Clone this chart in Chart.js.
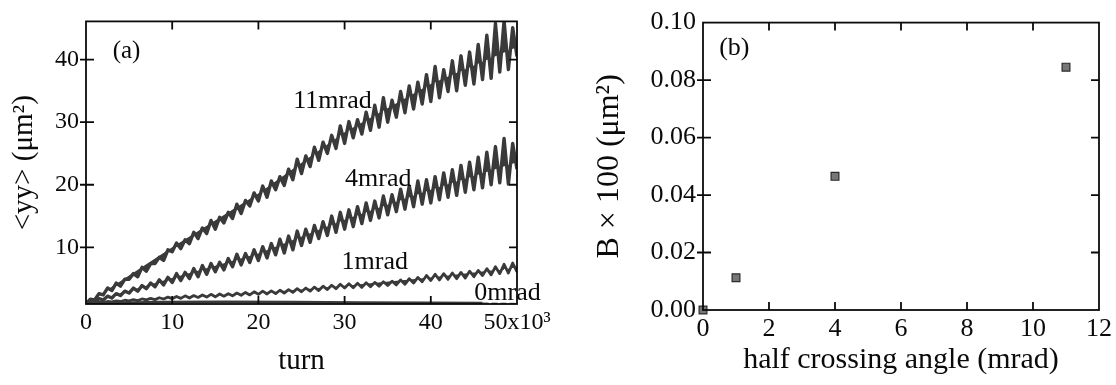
<!DOCTYPE html>
<html>
<head>
<meta charset="utf-8">
<script src="https://cdn.jsdelivr.net/npm/chart.js@4.4.0/dist/chart.umd.min.js"></script>
<style>
  html, body { margin: 0; padding: 0; background: #fff; }
  #wrap { position: relative; width: 1116px; height: 385px; }
  .box { position: absolute; top: 0; width: 558px; height: 385px; }
</style>
</head>
<body>
<div id="wrap">
  <div class="box" style="left:0"><canvas id="chartA"></canvas></div>
  <div class="box" style="left:558px"><canvas id="chartB"></canvas></div>
</div>
<script>
// panel (a): <yy> vs turn (x10^3)
const turns = [
  0, 0.5, 1, 1.5, 2, 2.5, 3, 3.5, 4, 4.5,
  5, 5.5, 6, 6.5, 7, 7.5, 8, 8.5, 9, 9.5,
  10, 10.5, 11, 11.5, 12, 12.5, 13, 13.5, 14, 14.5,
  15, 15.5, 16, 16.5, 17, 17.5, 18, 18.5, 19, 19.5,
  20, 20.5, 21, 21.5, 22, 22.5, 23, 23.5, 24, 24.5,
  25, 25.5, 26, 26.5, 27, 27.5, 28, 28.5, 29, 29.5,
  30, 30.5, 31, 31.5, 32, 32.5, 33, 33.5, 34, 34.5,
  35, 35.5, 36, 36.5, 37, 37.5, 38, 38.5, 39, 39.5,
  40, 40.5, 41, 41.5, 42, 42.5, 43, 43.5, 44, 44.5,
  45, 45.5, 46, 46.5, 47, 47.5, 48, 48.5, 49, 49.5,
  50
];
const yy11 = [
  1.0, 1.7, 1.6, 2.6, 2.4, 3.5, 3.1, 4.3, 3.8, 4.9,
  4.9, 5.8, 5.3, 6.8, 6.2, 7.4, 7.4, 8.4, 7.9, 9.6,
  9.3, 10.7, 9.8, 11.2, 10.6, 12.4, 11.4, 13.1, 12.2, 14.3,
  12.9, 14.8, 13.9, 15.6, 14.6, 16.9, 15.4, 17.5, 16.6, 18.7,
  17.4, 19.8, 18.0, 20.6, 19.2, 21.3, 19.9, 22.5, 20.8, 24.1,
  21.8, 24.6, 22.9, 26.0, 23.9, 26.8, 25.0, 27.9, 25.8, 29.4,
  26.6, 30.1, 27.5, 30.4, 28.1, 31.6, 28.7, 32.7, 29.2, 33.9,
  30.0, 33.5, 30.8, 34.9, 31.5, 35.8, 32.1, 36.4, 32.9, 37.6,
  33.3, 38.9, 33.9, 38.4, 34.9, 39.8, 35.0, 40.6, 35.9, 41.2,
  36.1, 42.4, 36.8, 43.9, 37.0, 45.8, 38.0, 46.2, 38.4, 45.1,
  40.5
];
const yy4 = [
  1.0, 1.4, 1.2, 1.8, 1.6, 2.2, 1.9, 2.6, 2.3, 3.0,
  2.7, 3.5, 3.0, 3.9, 3.4, 4.3, 3.7, 4.8, 4.0, 5.2,
  4.4, 5.8, 4.7, 6.0, 5.0, 6.6, 5.3, 7.1, 5.7, 7.4,
  6.1, 7.6, 6.4, 8.2, 6.9, 8.9, 7.2, 9.0, 7.6, 9.6,
  7.9, 10.1, 8.3, 10.6, 8.8, 11.3, 9.1, 11.8, 9.6, 12.6,
  10.3, 12.9, 10.8, 13.5, 11.4, 14.1, 11.9, 15.0, 12.4, 15.6,
  12.9, 16.0, 13.3, 16.5, 13.8, 17.1, 14.3, 17.4, 14.7, 18.2,
  15.2, 18.4, 15.7, 19.3, 16.1, 19.8, 16.5, 20.6, 16.9, 20.8,
  17.1, 21.3, 17.6, 21.9, 18.0, 22.4, 18.3, 23.1, 18.8, 23.6,
  19.2, 24.4, 19.5, 25.2, 20.0, 26.1, 20.3, 27.4, 20.1, 26.6,
  22.5
];
const yy1 = [
  1.0, 1.15, 1.1, 1.25, 1.2, 1.35, 1.3, 1.45, 1.35, 1.55,
  1.45, 1.65, 1.5, 1.75, 1.6, 1.85, 1.65, 1.95, 1.75, 2.05,
  1.8, 2.15, 1.85, 2.25, 1.9, 2.3, 2.0, 2.4, 2.05, 2.5,
  2.1, 2.55, 2.2, 2.6, 2.25, 2.7, 2.35, 2.8, 2.4, 2.9,
  2.5, 3.0, 2.55, 3.05, 2.6, 3.15, 2.7, 3.25, 2.8, 3.4,
  2.9, 3.5, 3.0, 3.65, 3.1, 3.8, 3.25, 3.95, 3.4, 4.1,
  3.5, 4.2, 3.55, 4.25, 3.6, 4.35, 3.7, 4.4, 3.8, 4.5,
  3.9, 4.6, 4.0, 4.8, 4.1, 5.0, 4.3, 5.2, 4.5, 5.5,
  4.7, 5.7, 4.8, 5.8, 4.9, 5.9, 5.0, 6.0, 5.1, 6.2,
  5.3, 6.3, 5.5, 6.6, 5.6, 6.9, 5.8, 7.3, 5.9, 7.5,
  6.1
];
const zeroTurns = [0, 8, 16, 24, 32, 40, 46];
const yy0 = [1.0, 1.25, 1.3, 1.25, 1.2, 1.15, 1.1];
const tailTurns = [46, 50];
const yy0tail = [1.1, 1.05];

// centre lines of the noisy bands (used to fill the band body)
const trendTurns = [0, 10, 20, 30, 40, 50];
const mid11 = [1.0, 10.0, 18.6, 28.4, 36.1, 42.0];
const mid4 = [1.0, 5.1, 9.0, 14.4, 19.2, 23.6];
const mid1 = [1.0, 2.0, 2.7, 3.85, 5.2, 6.8];

const turnTicks = [0, 10, 20, 30, 40, 50];
const turnTickLabels = ["0", "10", "20", "30", "40", "50x10\u00B3"];
const yyTicks = [10, 20, 30, 40];

// panel (b): B x 100 vs half crossing angle
const angles = [0, 1, 4, 11];
const bValues = [0.0, 0.0112, 0.0465, 0.0845];
const angleTicks = [0, 2, 4, 6, 8, 10, 12];
const bTicks = [0, 0.02, 0.04, 0.06, 0.08, 0.10];

const SERIF = "'Liberation Serif', 'Times New Roman', serif";
const INK = "#0a0a0a";
const TRACE = "#3a3a3a";

const pts = (xs, ys) => xs.map((x, i) => ({ x: x, y: ys[i] }));

// frame + inward ticks (left ticks cross the axis)
const frameTicks = {
  id: "frameTicks",
  afterDatasetsDraw(chart) {
    const { ctx, chartArea: a, scales } = chart;
    const x = scales.x, y = scales.y;
    ctx.save();
    ctx.strokeStyle = INK;
    ctx.lineWidth = 1.8;
    ctx.strokeRect(a.left, a.top, a.right - a.left, a.bottom - a.top);
    ctx.beginPath();
    x.ticks.forEach(t => {
      const px = x.getPixelForValue(t.value);
      if (px <= a.left + 1 || px >= a.right - 1) return;
      ctx.moveTo(px, a.bottom); ctx.lineTo(px, a.bottom - 8);
      ctx.moveTo(px, a.top); ctx.lineTo(px, a.top + 8);
    });
    y.ticks.forEach(t => {
      const py = y.getPixelForValue(t.value);
      if (py <= a.top + 1 || py >= a.bottom - 1) return;
      ctx.moveTo(a.left - 6, py); ctx.lineTo(a.left + 8, py);
      ctx.moveTo(a.right, py); ctx.lineTo(a.right - 8, py);
    });
    ctx.stroke();
    ctx.restore();
  }
};

// text notes placed in data units
const notes = {
  id: "notes",
  afterDraw(chart, args, opts) {
    const { ctx, scales } = chart;
    ctx.save();
    ctx.fillStyle = INK;
    ctx.textAlign = "center";
    ctx.textBaseline = "middle";
    (opts.items || []).forEach(n => {
      ctx.font = n.size + "px " + SERIF;
      ctx.fillText(n.text, scales.x.getPixelForValue(n.x), scales.y.getPixelForValue(n.y));
    });
    ctx.restore();
  }
};

function setTicks(values) {
  return scale => { scale.ticks = values.map(v => ({ value: v })); };
}

function traceSet(xs, ys, width, fillTo, dash) {
  return {
    data: pts(xs, ys),
    borderColor: TRACE,
    backgroundColor: TRACE,
    borderWidth: width,
    borderDash: dash || [],
    borderJoinStyle: "round",
    fill: fillTo === undefined ? false : fillTo,
    pointRadius: 0,
    tension: 0,
    clip: 0
  };
}

function midSet(ys) {
  return {
    data: pts(trendTurns, ys),
    borderWidth: 0,
    borderColor: "rgba(0,0,0,0)",
    pointRadius: 0,
    fill: false,
    tension: 0
  };
}

Chart.defaults.font.family = SERIF;
Chart.defaults.color = INK;

new Chart(document.getElementById("chartA"), {
  type: "line",
  data: {
    datasets: [
      traceSet(turns, yy11, 3.4, 5),
      traceSet(turns, yy4, 3.4, 6),
      traceSet(turns, yy1, 2.8, 7),
      traceSet(zeroTurns, yy0, 2.6),
      traceSet(tailTurns, yy0tail, 1, undefined, [6, 3]),
      midSet(mid11),
      midSet(mid4),
      midSet(mid1)
    ]
  },
  options: {
    responsive: true,
    maintainAspectRatio: false,
    animation: false,
    devicePixelRatio: 1,
    layout: { padding: { top: 15, right: 41, left: 0, bottom: 0 } },
    plugins: {
      legend: { display: false },
      tooltip: { enabled: false },
      notes: {
        items: [
          { text: "(a)", x: 4.7, y: 41.3, size: 25 },
          { text: "11mrad", x: 28.6, y: 33.3, size: 26 },
          { text: "4mrad", x: 33.9, y: 20.9, size: 26 },
          { text: "1mrad", x: 33.5, y: 7.6, size: 26 },
          { text: "0mrad", x: 48.9, y: 2.65, size: 26 }
        ]
      }
    },
    scales: {
      x: {
        type: "linear",
        min: 0,
        max: 50,
        afterBuildTicks: setTicks(turnTicks),
        afterFit: s => { s.height = 81; },
        grid: { display: false, drawTicks: false },
        border: { display: false },
        ticks: {
          padding: 4,
          maxRotation: 0,
          autoSkip: false,
          font: { size: 24 },
          callback: v => turnTickLabels[turnTicks.indexOf(v)]
        },
        title: { display: true, text: "turn", font: { size: 29 }, padding: 6 }
      },
      y: {
        min: 0.95,
        max: 46.1,
        afterBuildTicks: setTicks(yyTicks),
        afterFit: s => { s.width = 86; },
        grid: { display: false, drawTicks: false },
        border: { display: false },
        ticks: { padding: 7, font: { size: 24 } },
        title: { display: true, text: "<yy> (\u03BCm\u00B2)", font: { size: 29 }, padding: 7 }
      }
    }
  },
  plugins: [frameTicks, notes]
});

new Chart(document.getElementById("chartB"), {
  type: "scatter",
  data: {
    datasets: [{
      data: pts(angles, bValues),
      pointStyle: "rect",
      pointRadius: 5.5,
      backgroundColor: "#777",
      borderColor: "#2a2a2a",
      borderWidth: 1.2,
      clip: false
    }]
  },
  options: {
    responsive: true,
    maintainAspectRatio: false,
    animation: false,
    devicePixelRatio: 1,
    layout: { padding: { top: 21, right: 17, left: 0, bottom: 0 } },
    plugins: {
      legend: { display: false },
      tooltip: { enabled: false },
      notes: { items: [{ text: "(b)", x: 0.95, y: 0.091, size: 26 }] }
    },
    scales: {
      x: {
        type: "linear",
        min: 0,
        max: 12,
        afterBuildTicks: setTicks(angleTicks),
        afterFit: s => { s.height = 75; },
        grid: { display: false, drawTicks: false },
        border: { display: false },
        ticks: { padding: 4, maxRotation: 0, autoSkip: false, font: { size: 26 } },
        title: { display: true, text: "half crossing angle (mrad)", font: { size: 30 }, padding: 7 }
      },
      y: {
        min: 0,
        max: 0.1,
        afterBuildTicks: setTicks(bTicks),
        afterFit: s => { s.width = 145; },
        grid: { display: false, drawTicks: false },
        border: { display: false },
        ticks: { padding: 7, font: { size: 26 }, callback: v => v.toFixed(2) },
        title: { display: true, text: "B \u00D7 100 (\u03BCm\u00B2)", font: { size: 32 }, padding: 32 }
      }
    }
  },
  plugins: [frameTicks, notes]
});
</script>
</body>
</html>
